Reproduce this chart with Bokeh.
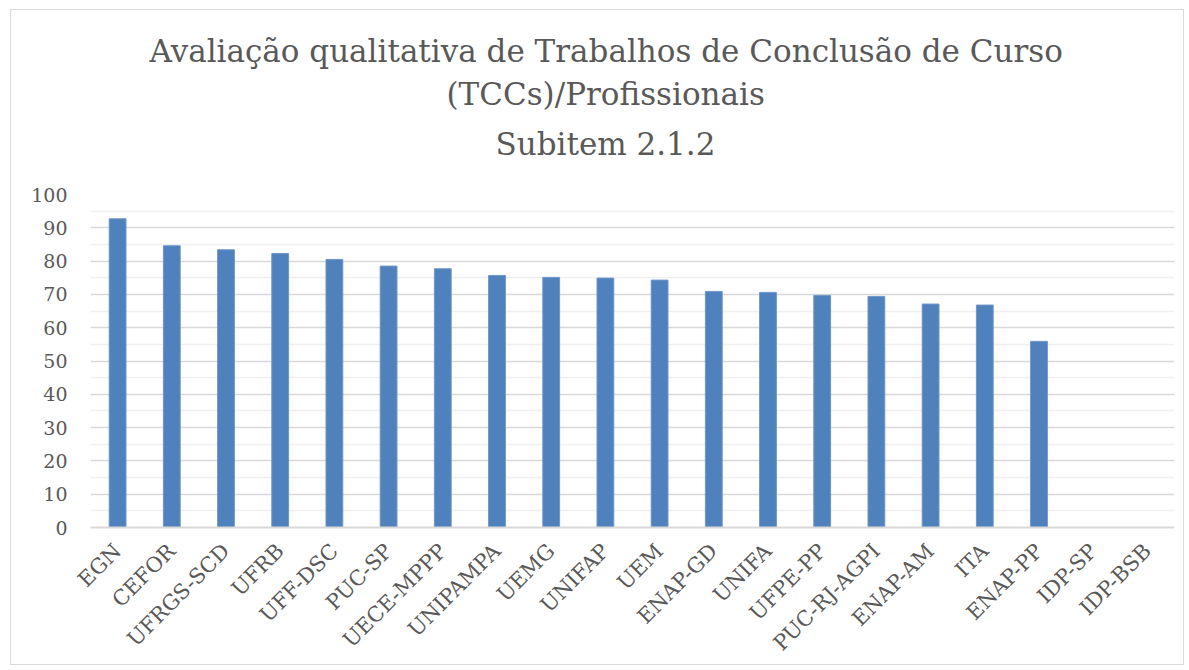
from bokeh.plotting import figure
from bokeh.models import ColumnDataSource, FactorRange, Range1d, FixedTicker, Title
from bokeh.embed import file_html
from bokeh.resources import INLINE
import math

categories = ["EGN", "CEFOR", "UFRGS-SCD", "UFRB", "UFF-DSC", "PUC-SP", "UECE-MPPP",
              "UNIPAMPA", "UEMG", "UNIFAP", "UEM", "ENAP-GD", "UNIFA", "UFPE-PP",
              "PUC-RJ-AGPI", "ENAP-AM", "ITA", "ENAP-PP", "IDP-SP", "IDP-BSB"]
values = [92.7, 84.6, 83.4, 82.3, 80.5, 78.5, 77.7, 75.7, 75.1, 74.9,
          74.3, 70.9, 70.6, 69.7, 69.4, 67.1, 66.8, 55.9, 0, 0]
y_ticks = [0, 10, 20, 30, 40, 50, 60, 70, 80, 90, 100]
minor_ticks = [5, 15, 25, 35, 45, 55, 65, 75, 85, 95]
title_lines = ["Avaliação qualitativa de Trabalhos de Conclusão de Curso",
               "(TCCs)/Profissionais",
               "Subitem 2.1.2"]

FONT = "DejaVu Serif"
GREY = "#595959"
TITLE_SIZE = "31px"

source = ColumnDataSource(data=dict(cat=categories, val=values))

p = figure(x_range=FactorRange(*categories, range_padding=0),
           y_range=Range1d(0, 100),
           width=1174, height=656,
           output_backend="svg", toolbar_location=None,
           min_border_left=79, min_border_right=11,
           min_border_top=184, min_border_bottom=138)

p.vbar(x="cat", top="val", width=0.31, source=source,
       fill_color="#4F81BD", line_color="#6f96c8", line_width=1)

# title: three lines centred on the chart box; p.title is the top line
p.title.text = title_lines[0]
p.title.align = "left"
p.title.offset = 59
p.title.text_font = FONT
p.title.text_font_size = TITLE_SIZE
p.title.text_font_style = "normal"
p.title.text_color = GREY
p.title.standoff = 5

# spacer between title block and plot area
p.add_layout(Title(text=" ", text_font=FONT, text_font_size="10px", standoff=10), "above")
for line, so, off in [(title_lines[2], 19, 405), (title_lines[1], 5, 356)]:
    t = Title(text=line, align="left", offset=off, text_font=FONT,
              text_font_size=TITLE_SIZE, text_font_style="normal",
              text_color=GREY, standoff=so)
    p.add_layout(t, "above")

p.outline_line_color = None
p.background_fill_color = "white"
p.border_fill_color = "white"

# y axis
p.yaxis.ticker = FixedTicker(ticks=y_ticks, minor_ticks=minor_ticks)
p.yaxis.axis_line_color = None
p.yaxis.major_tick_line_color = None
p.yaxis.minor_tick_line_color = None
p.yaxis.major_label_text_font = FONT
p.yaxis.major_label_text_font_size = "19px"
p.yaxis.major_label_text_color = GREY
p.yaxis.major_label_standoff = 17

# x axis
p.xaxis.axis_line_color = "#d9d9d9"
p.xaxis.axis_line_width = 2
p.xaxis.major_tick_line_color = None
p.xaxis.minor_tick_line_color = None
p.xaxis.major_label_orientation = math.pi / 4
p.xaxis.major_label_text_font = FONT
p.xaxis.major_label_text_font_size = "21px"
p.xaxis.major_label_text_color = GREY
p.xaxis.major_label_standoff = 14

# grid
p.xgrid.grid_line_color = None
p.ygrid.grid_line_color = "#d9d9d9"
p.ygrid.grid_line_width = 1.5
p.ygrid.minor_grid_line_color = "#f0f0f0"
p.ygrid.minor_grid_line_width = 1.5

p.styles = {"border": "1.5px solid #d9d9d9", "margin-left": "10px", "margin-top": "9px"}

open("out.html", "w").write(file_html(p, INLINE))
